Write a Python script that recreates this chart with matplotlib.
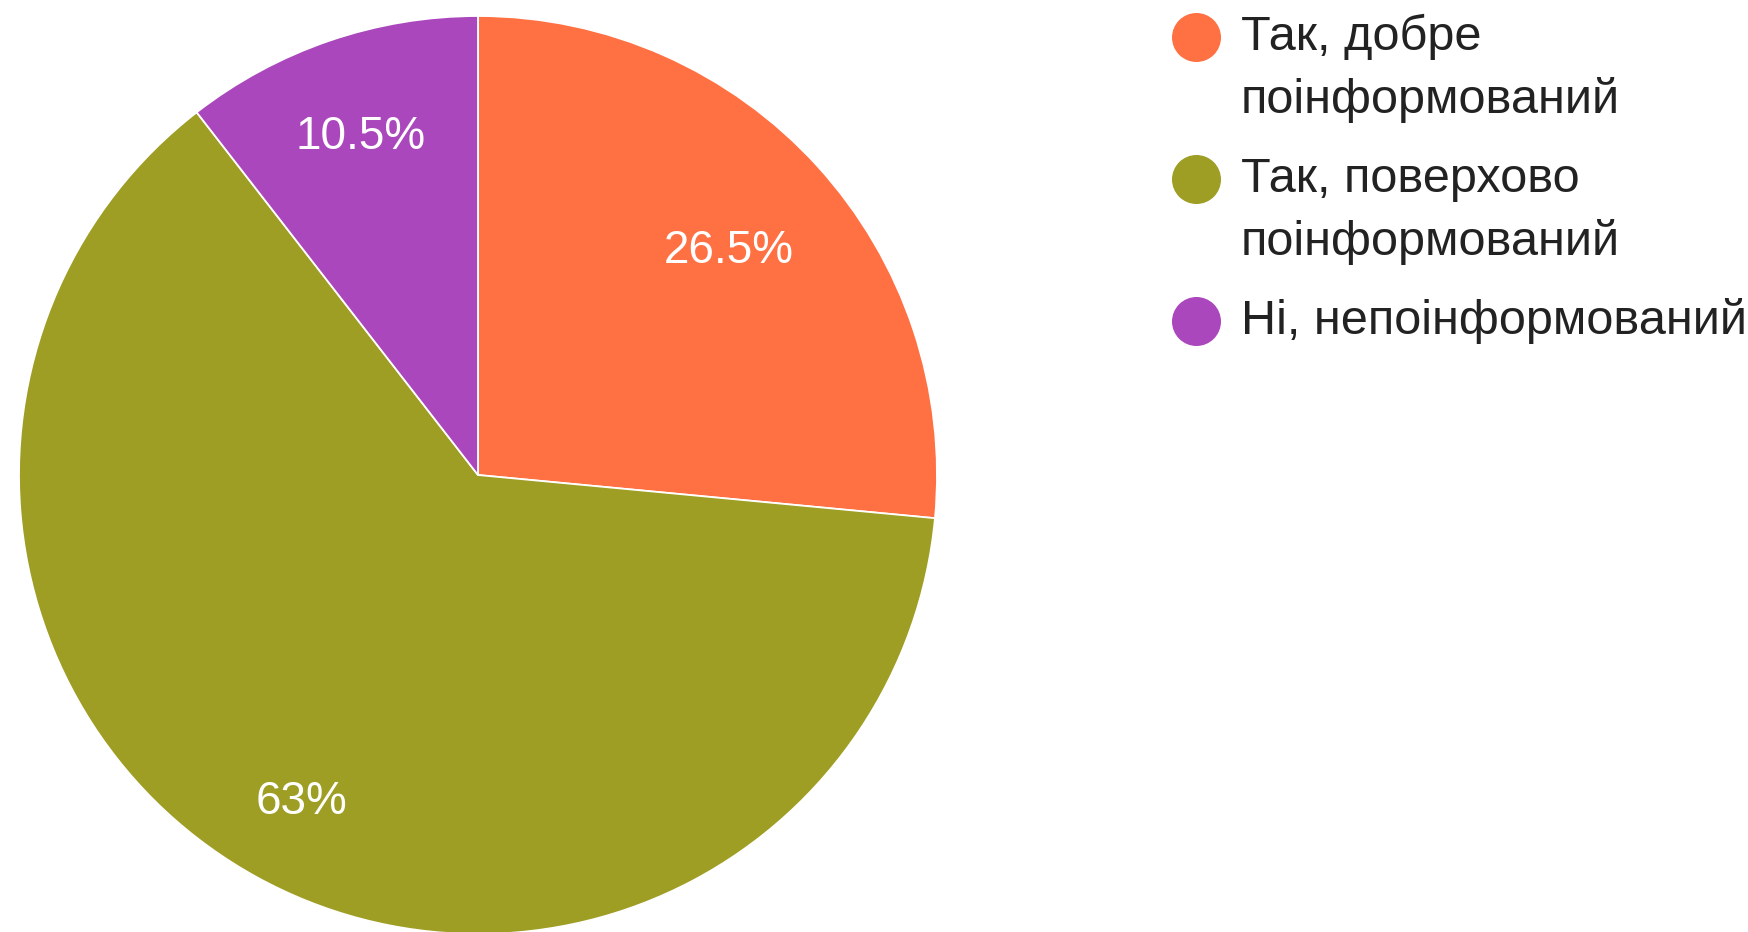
import matplotlib
matplotlib.use("Agg")
import matplotlib.pyplot as plt
import numpy as np

labels = ["Так, добре\nпоінформований", "Так, поверхово\nпоінформований", "Ні, непоінформований"]
values = [26.5, 63.0, 10.5]
pct_labels = ["26.5%", "63%", "10.5%"]
colors = ["#FF7043", "#9E9D24", "#AB47BC"]

W, H = 1748, 932
fig = plt.figure(figsize=(W / 100, H / 100), dpi=100)
fig.patch.set_facecolor("white")

cx, cy, r = 478, 475, 459
ax = fig.add_axes([(cx - r) / W, (H - cy - r) / H, 2 * r / W, 2 * r / H])
wedges, texts = ax.pie(values, colors=colors, startangle=90, counterclock=False,
                       radius=1.0, wedgeprops=dict(edgecolor="white", linewidth=1.3))
label_dist = [0.74, 0.80, 0.79]
for w, lab, d in zip(wedges, pct_labels, label_dist):
    ang = np.deg2rad((w.theta1 + w.theta2) / 2)
    ax.text(d * np.cos(ang), d * np.sin(ang), lab, ha="center", va="center_baseline",
            color="white", fontsize=33, family="Liberation Sans")
ax.set_xlim(-1, 1)
ax.set_ylim(-1, 1)
ax.set_aspect("equal")
ax.axis("off")

lax = fig.add_axes([0, 0, 1, 1])
lax.set_xlim(0, W)
lax.set_ylim(H, 0)
lax.axis("off")
y0 = 37
for i, (lab, c) in enumerate(zip(labels, colors)):
    y = y0 + i * 142
    lax.scatter([1196], [y], s=(49 * 0.72) ** 2, color=c, marker="o", linewidths=0)
    for j, line in enumerate(lab.split("\n")):
        lax.text(1241, y + j * 63, line, ha="left", va="center",
                 fontsize=35, color="#222222", family="Liberation Sans")

fig.savefig("out.png", dpi=100, facecolor="white")
